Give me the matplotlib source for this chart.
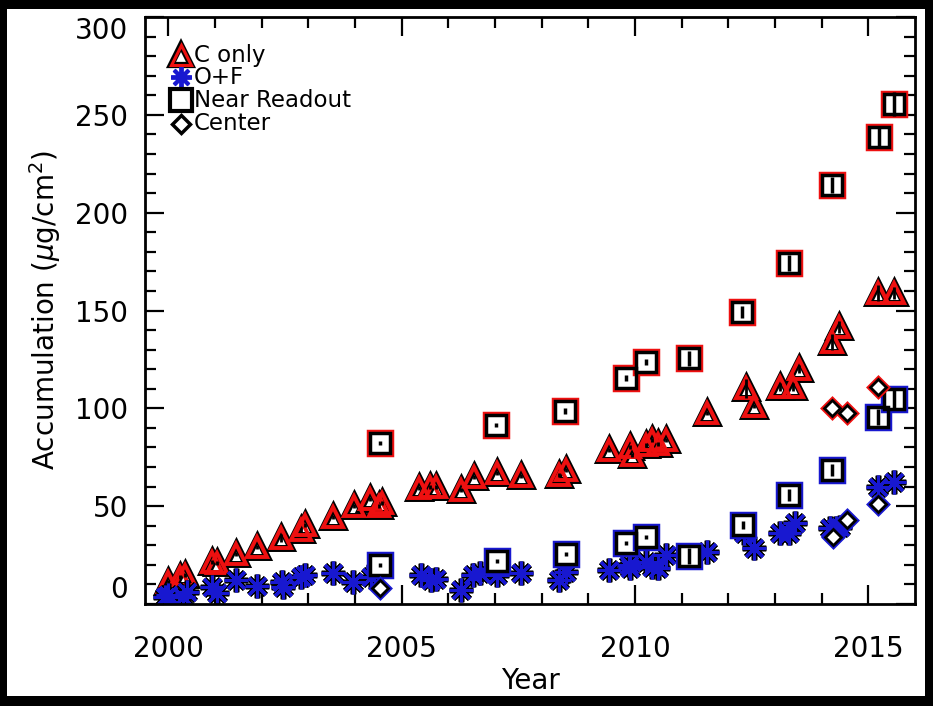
import numpy as np
import matplotlib
matplotlib.use("Agg")
import matplotlib.pyplot as plt
from matplotlib.patches import Rectangle

# C only (triangles)
c_year = [2000.0, 2000.26, 2000.35, 2000.93, 2001.04, 2001.45, 2001.9, 2002.42,
          2002.84, 2002.93, 2003.53, 2003.97, 2004.33, 2004.52, 2004.57, 2005.38,
          2005.6, 2005.74, 2006.28, 2006.54, 2007.04, 2007.56, 2008.38, 2008.52,
          2009.44, 2009.9, 2009.94, 2010.23, 2010.37, 2010.5, 2010.66, 2011.54,
          2012.37, 2012.54, 2013.11, 2013.38, 2013.52, 2014.22, 2014.37, 2015.2,
          2015.56]
c_val = [11.4, 13.8, 14.8, 21.6, 20.8, 25.5, 29.3, 33.8, 37.8, 40.4, 44.6, 50.1,
         53.5, 50.1, 51.5, 59.1, 59.9, 59.6, 58.3, 64.8, 67.1, 65.4, 65.9, 68.5,
         78.7, 80.4, 76.1, 81.2, 83.8, 82.0, 83.8, 97.4, 110.2, 101.2, 111.0,
         111.0, 119.9, 134.0, 141.7, 159.1, 159.1]
c_err = [1, 1, 1, 1, 1, 1, 1, 2, 1, 1, 1, 1, 1, 1, 1, 1, 1, 1, 1, 1, 1, 1, 1, 1,
         1, 1, 1, 1, 1, 1, 1, 1, 5, 1, 2, 2, 2, 4, 3, 4, 3]

# O+F (asterisks)
of_year = [1999.93, 2000.0, 2000.32, 2000.4, 2000.93, 2001.04, 2001.45, 2001.9,
           2002.43, 2002.45, 2002.85, 2002.93, 2003.53, 2003.96, 2004.35, 2004.5,
           2005.42, 2005.63, 2005.74, 2006.28, 2006.52, 2006.67, 2007.04, 2007.56,
           2008.38, 2008.52, 2009.44, 2009.87, 2009.9, 2010.23, 2010.37, 2010.5,
           2010.66, 2011.55, 2012.33, 2012.54, 2013.11, 2013.29, 2013.43, 2014.18,
           2014.3, 2014.39, 2015.21, 2015.56]
of_val = [3.7, 4.6, 3.7, 6.3, 8.8, 5.5, 12.3, 9.4, 11.4, 8.8, 14.0, 14.8, 15.7,
          11.4, 14.0, 19.0, 14.8, 12.3, 12.8, 7.2, 14.8, 15.7, 14.8, 15.7, 12.3,
          16.5, 17.4, 19.9, 18.2, 21.6, 19.1, 18.2, 25.0, 26.5, 36.5, 28.5, 36.1,
          36.1, 41.2, 38.7, 38.7, 39.5, 59.9, 62.5]

# Near Readout (squares)
nr_c_year = [2004.53, 2007.03, 2008.5, 2009.8, 2010.24, 2011.15, 2012.3, 2013.29,
             2014.22, 2015.23, 2015.55]
nr_c_val = [82.1, 91.5, 98.6, 115.3, 123.8, 125.5, 149.1, 174.4, 214.1, 238.8, 255.5]
nr_c_err = [1, 1, 1.5, 1.5, 1.5, 4, 3, 4, 4, 5, 6]
nr_of_year = [2004.53, 2007.04, 2008.52, 2009.8, 2010.23, 2011.15, 2012.31,
              2013.29, 2014.22, 2015.21, 2015.56]
nr_of_val = [19.9, 22.1, 25.5, 31.3, 34.1, 24.5, 40.4, 55.7, 68.5, 95.7, 104.8]
nr_of_err = [1, 1, 1, 1, 1, 4, 2, 3, 3, 4, 5]

# Center (diamonds)
ce_c_year = [2014.22, 2014.54, 2015.2]
ce_c_val = [100.0, 97.8, 110.7]
ce_of_year = [2004.53, 2014.24, 2014.54, 2015.21]
ce_of_val = [8.0, 34.2, 42.9, 51.1]

plt.rcParams['font.family'] = ['DejaVu Sans']
plt.rcParams['mathtext.fontset'] = 'dejavusans'

fig = plt.figure(figsize=(9.33, 7.06), dpi=100)
fig.patch.set_facecolor('black')
fig.add_artist(Rectangle((7/933, 10/706), (933-15)/933, (706-19)/706,
                         facecolor='white', edgecolor='none',
                         transform=fig.transFigure, zorder=-5))
ax = fig.add_axes([145/933, 102/706, 770/933, 587/706])

red = '#ee1010'
blue = '#1818d0'
star = (8, 2, 0)


def tri(x, y, **kw):
    ax.plot(x, y, ls='none', marker='^', ms=15, mfc='white', mec='black', mew=5, **kw)
    ax.plot(x, y, ls='none', marker='^', ms=15, mfc='none', mec=red, mew=2.8, **kw)


def ast(x, y, **kw):
    ax.plot(x, y, ls='none', marker=star, ms=17, mec='black', mew=4, **kw)
    ax.plot(x, y, ls='none', marker=star, ms=17, mec=blue, mew=2.2, **kw)


def sq(x, y, col, **kw):
    ax.plot(x, y, ls='none', marker='s', ms=17, mfc='white', mec=col, mew=2.5, **kw)
    ax.plot(x, y, ls='none', marker='s', ms=14.5, mfc='none', mec='black', mew=2.5, **kw)


def dia(x, y, col, **kw):
    ax.plot(x, y, ls='none', marker='D', ms=10, mfc='white', mec=col, mew=2.5, **kw)
    ax.plot(x, y, ls='none', marker='D', ms=8.5, mfc='none', mec='black', mew=2, **kw)


tri(c_year, c_val)
ax.errorbar(c_year, c_val, yerr=c_err, fmt='none', ecolor='black', elinewidth=2)
ast(of_year, of_val)
sq(nr_c_year, nr_c_val, red)
ax.errorbar(nr_c_year, nr_c_val, yerr=nr_c_err, fmt='none', ecolor='black', elinewidth=2.5)
sq(nr_of_year, nr_of_val, blue)
ax.errorbar(nr_of_year, nr_of_val, yerr=nr_of_err, fmt='none', ecolor='black', elinewidth=2.5)
dia(ce_c_year, ce_c_val, red)
dia(ce_of_year, ce_of_val, blue)

# legend drawn by hand
lx, tx = 0.047, 0.063
ly = [0.935, 0.897, 0.858, 0.818]
tr = ax.transAxes
ax.plot([lx], [ly[0]], transform=tr, marker='^', ms=14, mfc='white', mec='black', mew=4.5, clip_on=False)
ax.plot([lx], [ly[0]], transform=tr, marker='^', ms=14, mfc='none', mec=red, mew=2.2, clip_on=False)
ax.plot([lx], [ly[1]], transform=tr, marker=star, ms=15, mec=blue, mew=2.8, clip_on=False)
ax.plot([lx], [ly[2]], transform=tr, marker='s', ms=16, mfc='white', mec='black', mew=3, clip_on=False)
ax.plot([lx], [ly[3]], transform=tr, marker='D', ms=9, mfc='white', mec='black', mew=2.5, clip_on=False)
for yy, lab in zip(ly, ['C only', 'O+F', 'Near Readout', 'Center']):
    ax.text(tx, yy, lab, transform=tr, fontsize=16.5, va='center', ha='left')

ax.set_xlim(1999.5, 2016.0)
ax.set_ylim(0, 300)
ax.set_xticks([2000, 2005, 2010, 2015])
ax.set_xticks(np.arange(2000, 2016), minor=True)
ax.set_yticks([0, 50, 100, 150, 200, 250, 300])
ax.set_yticks(np.arange(0, 301, 10), minor=True)
ax.tick_params(which='both', direction='in', top=True, right=True, width=1.6,
               labelsize=20)
ax.tick_params(which='major', length=14)
ax.tick_params(which='minor', length=8)
ax.tick_params(axis='x', pad=22)
ax.tick_params(axis='y', pad=12)
for s in ax.spines.values():
    s.set_linewidth(2)

ylabs = ax.get_yticklabels()
ylabs[0].set_va('bottom')
ylabs[-1].set_va('top')

ax.set_xlabel('Year', fontsize=20)
ax.set_ylabel(r'Accumulation ($\mu$g/cm$^2$)', fontsize=20)
ax.xaxis.set_label_coords(0.5, -0.108)
ax.yaxis.set_label_coords(-0.106, 0.5)

fig.savefig('out.png', dpi=100, facecolor='black')
